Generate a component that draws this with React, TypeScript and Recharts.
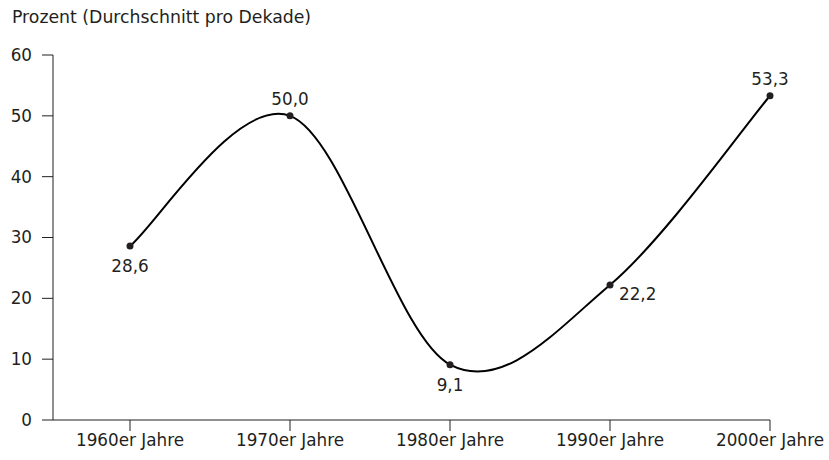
import React from 'react';
import { LineChart, Line, XAxis, YAxis, LabelList } from 'recharts';

const decades = ['1960er Jahre', '1970er Jahre', '1980er Jahre', '1990er Jahre', '2000er Jahre'];
const percent = [28.6, 50.0, 9.1, 22.2, 53.3];
const yTicks = [0, 10, 20, 30, 40, 50, 60];

// where each value label sits relative to its point
const labelSide = ['below', 'above', 'below', 'right', 'above'];

const data = decades.map((d, i) => ({ decade: d, value: percent[i] }));

const font = '"DejaVu Sans", "Noto Sans", sans-serif';
const fontSize = 16.8;
const ink = '#231f20';

const fmt = (v: number) => v.toFixed(1).replace('.', ',');

// uniform cardinal spline (tension 0), ends duplicated
const cardinal = (context: any) => {
    let pts: number[][] = [];
    return {
        areaStart() {},
        areaEnd() {},
        lineStart() {
            pts = [];
        },
        point(x: number, y: number) {
            pts.push([+x, +y]);
        },
        lineEnd() {
            const n = pts.length;
            if (!n) return;
            context.moveTo(pts[0][0], pts[0][1]);
            for (let i = 0; i < n - 1; i++) {
                const p0 = pts[Math.max(i - 1, 0)];
                const p1 = pts[i];
                const p2 = pts[i + 1];
                const p3 = pts[Math.min(i + 2, n - 1)];
                context.bezierCurveTo(
                    p1[0] + (p2[0] - p0[0]) / 6,
                    p1[1] + (p2[1] - p0[1]) / 6,
                    p2[0] - (p3[0] - p1[0]) / 6,
                    p2[1] - (p3[1] - p1[1]) / 6,
                    p2[0],
                    p2[1]
                );
            }
        },
    };
};

const ValueLabel = (props: any) => {
    const { x, y, value, index } = props;
    const side = labelSide[index];
    let tx = x;
    let ty = y;
    let anchor: 'middle' | 'start' = 'middle';
    if (side === 'above') ty = y - 11;
    if (side === 'below') ty = y + 26;
    if (side === 'right') {
        tx = x + 9;
        ty = y + 15;
        anchor = 'start';
    }
    return (
        <text x={tx} y={ty} textAnchor={anchor} fill={ink} fontSize={fontSize} fontFamily={font}>
            {fmt(value)}
        </text>
    );
};

const App: React.FC = () => {
    return (
        <div style={{ position: 'absolute', left: 0, top: 0, width: 829, height: 460, background: '#fff' }}>
            <div
                style={{
                    position: 'absolute',
                    left: 12,
                    top: 7,
                    fontFamily: font,
                    fontSize: 17.3,
                    color: ink,
                    whiteSpace: 'nowrap',
                }}
            >
                Prozent (Durchschnitt pro Dekade)
            </div>
            <LineChart width={829} height={460} data={data} margin={{ top: 55, right: 59, bottom: 0, left: 0 }}>
                <XAxis
                    dataKey="decade"
                    padding={{ left: 77, right: 0 }}
                    height={40}
                    tickSize={11}
                    tickMargin={3}
                    stroke={ink}
                    tick={{ fill: ink, fontSize: fontSize, fontFamily: font }}
                    interval={0}
                />
                <YAxis
                    domain={[0, 60]}
                    ticks={yTicks}
                    width={53}
                    tickSize={11}
                    tickMargin={10}
                    stroke={ink}
                    tick={{ fill: ink, fontSize: fontSize, fontFamily: font }}
                />
                <Line
                    type={cardinal as any}
                    dataKey="value"
                    stroke="#000"
                    strokeWidth={2}
                    dot={{ r: 3.5, fill: ink, stroke: ink, strokeWidth: 0 }}
                    isAnimationActive={false}
                >
                    <LabelList dataKey="value" content={<ValueLabel />} />
                </Line>
            </LineChart>
        </div>
    );
};

export default App;
